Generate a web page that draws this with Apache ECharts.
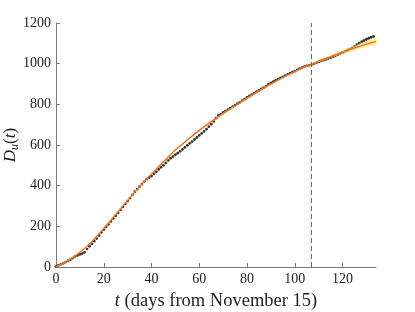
<!DOCTYPE html>
<html><head><meta charset="utf-8">
<script src="https://cdn.jsdelivr.net/npm/echarts@6/dist/echarts.min.js"></script>
<style>html,body{margin:0;padding:0;background:#fff}#c{width:415px;height:312px}</style>
</head><body><div id="c"></div>
<script>
// observed data: day index and value
const days = [];
for (let i = 0; i <= 133; i++) days.push(i);
const obs = [2,8,13,18,24,30,36,44,52,57,62,66,72,88,102,114,127,140,155,170,
184,197,210,224,238,252,266,281,296,310,324,339,355,370,383,395,408,420,432,440,
447,458,468,480,490,500,512,524,535,543,552,560,569,578,588,598,608,617,627,637,
647,657,667,678,690,702,716,732,745,752,760,767,774,781,789,796,803,810,818,826,
834,841,848,855,862,869,876,882,890,899,906,912,918,924,930,935,941,947,953,958,
963,969,975,981,985,989,992,995,999,1004,1009,1013,1017,1021,1025,1029,1034,1039,1044,1049,
1055,1060,1066,1072,1078,1085,1093,1101,1108,1114,1120,1125,1130,1134];
// fitted curve
const fitT = [0,5,10,15,20,25,30,35,40,45,50,55,60,65,70,75,80,85,90,95,100,105,107,110,115,120,125,130,134];
const fitV = [0,32,72,125,190,258,328,395,458,518,575,625,672,715,755,793,830,866,900,932,961,988,995,1012,1035,1057,1077,1096,1110];
const bandHalf = [4,4,4,4,4,4,4,4,4,4,4,4,4,4,4,4,4,4,4,4,4,4,4,6,8,10,12,14,15];
const xTicks = [0,20,40,60,80,100,120];
const yTicks = [0,200,400,600,800,1000,1200];
const cutDay = 107;

const serif = '"Liberation Serif", serif';
const chart = echarts.init(document.getElementById('c'));
chart.setOption({
  animation:false,
  grid:{left:56,right:39,top:23,bottom:45,outerBoundsMode:'none',containLabel:false},
  xAxis:{type:'value',min:0,max:134,
    name:'{i|t} (days from November 15)',nameLocation:'middle',nameGap:25,nameMoveOverlap:false,
    nameTextStyle:{fontFamily:serif,fontSize:18.5,color:'#222',rich:{i:{fontFamily:serif,fontStyle:'italic',fontSize:18.5,color:'#222'}}},
    axisLine:{show:true,lineStyle:{color:'#777',width:1}},
    axisTick:{show:true,inside:true,length:4,customValues:xTicks,lineStyle:{color:'#777'}},
    axisLabel:{customValues:xTicks,fontFamily:serif,fontSize:14,color:'#222',margin:5},
    splitLine:{show:false}},
  yAxis:{type:'value',min:0,max:1200,interval:200,
    name:'{i|D}{s|u}{n|(}{i|t}{n|)}',nameLocation:'middle',nameGap:35,nameRotate:90,nameMoveOverlap:false,
    nameTextStyle:{fontFamily:serif,fontSize:17,color:'#222',rich:{
      i:{fontFamily:serif,fontStyle:'italic',fontSize:17,color:'#222'},
      n:{fontFamily:serif,fontSize:17,color:'#222'},
      s:{fontFamily:serif,fontStyle:'italic',fontSize:12,color:'#222',padding:[8,0,0,0]}}},
    axisLine:{show:true,lineStyle:{color:'#777',width:1}},
    axisTick:{show:true,inside:true,length:4,lineStyle:{color:'#777'}},
    axisLabel:{customValues:yTicks,formatter:v=>String(v),fontFamily:serif,fontSize:14,color:'#222',margin:5},
    splitLine:{show:false}},
  series:[
    {type:'scatter',data:days.map((d,i)=>[d,obs[i]]),symbolSize:2.8,
     itemStyle:{color:'#000'},z:2,
     markLine:{silent:true,symbol:'none',label:{show:false},
       lineStyle:{color:'#5a5ad8',type:[5,3],width:1},data:[{xAxis:cutDay}]}},
    {type:'custom',z:3,silent:true,
     data:[0],
     renderItem:(params,api)=>{
       const pts=[];
       for(let i=0;i<fitT.length;i++) pts.push(api.coord([fitT[i],fitV[i]+bandHalf[i]]));
       for(let i=fitT.length-1;i>=0;i--) pts.push(api.coord([fitT[i],fitV[i]-bandHalf[i]]));
       return {type:'polygon',shape:{points:pts,smooth:0.3},style:{fill:'rgba(255,225,80,0.55)'}};
     }},
    {type:'line',data:fitT.map((t,i)=>[t,fitV[i]]),smooth:true,symbol:'none',
     lineStyle:{color:'#ff6a1a',width:1.3},z:4}
  ]
});
</script></body></html>
